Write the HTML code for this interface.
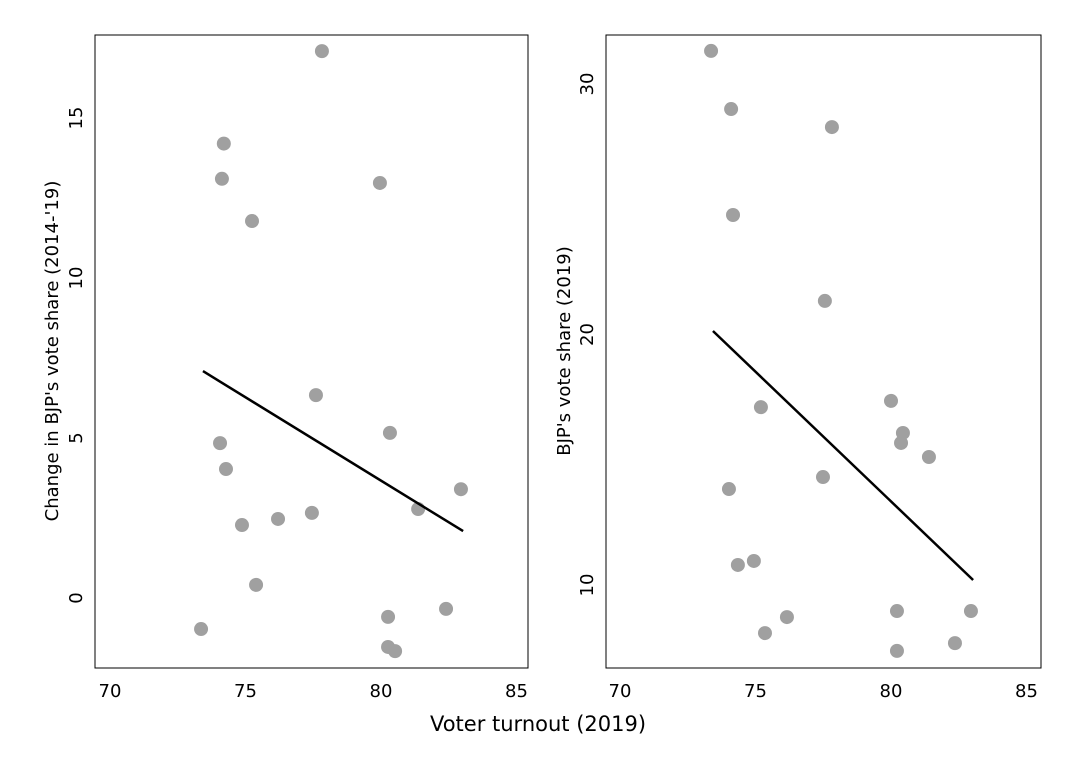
<!DOCTYPE html>
<html><head><meta charset="utf-8"><style>
body{margin:0;background:#fff;}
svg{display:block;font-family:"DejaVu Sans","Liberation Sans",sans-serif;}
</style></head><body>
<svg id="chart" width="1078" height="784"></svg>
<script>
const leftX=[77.82,74.2,74.13,79.96,75.24,77.6,74.06,80.33,74.28,82.95,81.37,74.87,76.2,77.45,75.39,80.26,82.4,73.36,80.26,80.52];
const leftY=[17.09,14.2,13.1,12.97,11.78,6.34,4.84,5.16,4.03,3.4,2.78,2.28,2.47,2.66,0.41,-0.59,-0.34,-0.97,-1.53,-1.66];
const leftFit=[[73.43,7.09],[83.03,2.09]];
const rightX=[73.36,74.1,77.82,74.17,77.56,75.2,80.0,80.44,80.37,81.4,77.49,74.02,74.94,74.35,76.16,75.35,80.22,82.95,82.36,80.22];
const rightY=[31.32,29.0,28.28,24.77,21.34,17.1,17.35,16.07,15.67,15.11,14.31,13.83,10.96,10.8,8.72,8.08,8.96,8.96,7.68,7.37];
const rightFit=[[73.43,20.14],[83.03,10.2]];
const xTicks=[70,75,80,85];
const leftYTicks=[0,5,10,15];
const rightYTicks=[10,20,30];

const svg=document.getElementById('chart');
const NS='http://www.w3.org/2000/svg';
function mk(tag,attrs,parent){const e=document.createElementNS(NS,tag);for(const k in attrs)e.setAttribute(k,attrs[k]);(parent||svg).appendChild(e);return e;}

function panel(name,box,xs,ys,fit,yTicks,yPix0,yVal0,yScale,ylabel,ylabelX){
  const g=mk('g',{});
  
  
  const sx=v=>box.x70+(v-70)*27.1;
  const sy=v=>yPix0-(v-yVal0)*yScale;
  const r=mk('rect',{x:box.l,y:35,width:box.r-box.l,height:633,fill:'none',stroke:'#000','stroke-width':1},g);
  
  
  xTicks.forEach(t=>{
    const tx=mk('text',{x:sx(t),y:697,'font-size':18,'text-anchor':'middle'},g);
    tx.textContent=t;
    
    
  });
  yTicks.forEach(t=>{
    const y=sy(t);
    const tx=mk('text',{x:0,y:0,'font-size':18,'text-anchor':'middle',transform:`translate(${box.l-13},${y}) rotate(-90)`},g);
    tx.textContent=t;
    
    
  });
  const yl=mk('text',{x:0,y:0,'font-size':18,'text-anchor':'middle',transform:`translate(${ylabelX},${351}) rotate(-90)`},g);
  yl.textContent=ylabel;
  
  
  xs.forEach((v,i)=>{
    const c=mk('circle',{cx:sx(v),cy:sy(ys[i]),r:7,fill:'#a0a0a0'},g);
    
    
  });
  const l=mk('line',{x1:sx(fit[0][0]),y1:sy(fit[0][1]),x2:sx(fit[1][0]),y2:sy(fit[1][1]),stroke:'#000','stroke-width':2.5},g);
  
  
}
panel('left-panel',{l:95,r:528,x70:110},leftX,leftY,leftFit,leftYTicks,598,0,32,"Change in BJP's vote share (2014-'19)",58);
panel('right-panel',{l:606,r:1041,x70:620},rightX,rightY,rightFit,rightYTicks,585,10,25.05,"BJP's vote share (2019)",570);
const xt=mk('text',{x:538,y:731,'font-size':21,'text-anchor':'middle'});
xt.textContent='Voter turnout (2019)';


</script>
</body></html>
